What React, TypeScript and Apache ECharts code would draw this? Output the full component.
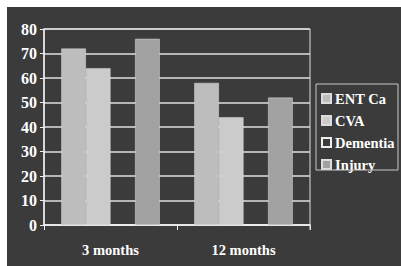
import React, { useEffect, useRef } from "react";
import * as echarts from "echarts";

const categories = ["3 months", "12 months"];
const seriesNames = ["ENT Ca", "CVA", "Dementia", "Injury"];
const entCa = [72, 58];
const cva = [64, 44];
const dementia = [0, 0];
const injury = [76, 52];
const yTicks = { min: 0, max: 80, interval: 10 };

const FONT = "'Liberation Serif', 'DejaVu Serif', serif";
const BG = "#3b3b3b";

export default function App() {
  const ref = useRef<HTMLDivElement>(null);
  useEffect(() => {
    if (!ref.current) return;
    const chart = echarts.init(ref.current, null, { renderer: "svg" });
    const values = [entCa, cva, dementia, injury];
    const colors = ["#bdbdbd", "#cbcbcb", BG, "#a2a2a2"];
    chart.setOption({
      animation: false,
      backgroundColor: "#ffffff",
      graphic: [
        { type: "rect", z: -10, shape: { x: 7, y: 7, width: 394, height: 259 }, style: { fill: BG } },
        { type: "rect", z: 5, shape: { x: 316, y: 84, width: 82, height: 86 }, style: { fill: "none", stroke: "#c8c8c8", lineWidth: 1 } },
        { type: "line", z: 5, shape: { x1: 310, y1: 225, x2: 310, y2: 230 }, style: { stroke: "#e0e0e0", lineWidth: 1 } },
      ],
      grid: { left: 44, top: 29, width: 266, height: 196, show: true, borderColor: "#e0e0e0", borderWidth: 1, backgroundColor: "transparent" },
      legend: {
        orient: "vertical",
        left: 321,
        top: 91,
        icon: "rect",
        itemWidth: 9,
        itemHeight: 9,
        itemGap: 7,
        padding: 0,
        textStyle: { color: "#ffffff", fontFamily: FONT, fontWeight: "bold", fontSize: 14.5, lineHeight: 14, padding: [0, 0, 0, -1] },
        data: seriesNames,
      },
      xAxis: {
        type: "category",
        data: categories,
        axisLine: { lineStyle: { color: "#f0f0f0", width: 1.5 } },
        axisTick: { show: true, length: 5, lineStyle: { color: "#f0f0f0" } },
        axisLabel: { color: "#ffffff", fontFamily: FONT, fontWeight: "bold", fontSize: 14.5, margin: 17 },
      },
      yAxis: {
        type: "value",
        min: yTicks.min,
        max: yTicks.max,
        interval: yTicks.interval,
        axisLine: { show: true, lineStyle: { color: "#f0f0f0", width: 1.5 } },
        axisTick: { show: true, length: 4, lineStyle: { color: "#f0f0f0" } },
        axisLabel: { color: "#ffffff", fontFamily: FONT, fontWeight: "bold", fontSize: 16, margin: 7 },
        splitLine: { lineStyle: { color: "#e0e0e0", width: 1.5 } },
      },
      series: seriesNames.map((name, i) => ({
        name,
        type: "bar",
        data: values[i],
        barGap: "0%",
        barCategoryGap: "26%",
        itemStyle: { color: colors[i], borderColor: i === 2 ? "#eeeeee" : "#dddddd", borderWidth: i === 2 ? 1 : 0.5 },
      })),
    });
    return () => chart.dispose();
  }, []);
  return (
    <div style={{ position: "absolute", left: 0, top: 0, width: 401, height: 266 }}>
      <div ref={ref} style={{ width: 401, height: 266 }} />
    </div>
  );
}
